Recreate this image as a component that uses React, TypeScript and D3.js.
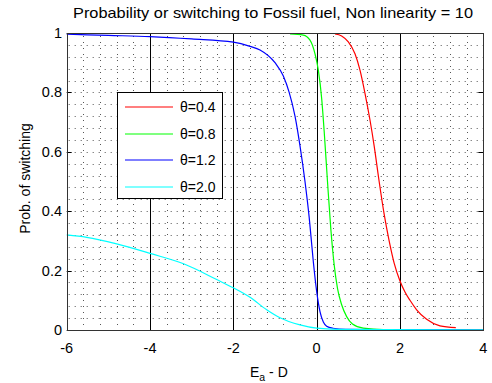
import React from "react";
import * as d3 from "d3";

const W = 492;
const H = 383;

const xTicks = [-6, -4, -2, 0, 2, 4];
const yTicks = [0, 0.2, 0.4, 0.6, 0.8, 1];
const xTickLabels = ["-6", "-4", "-2", "0", "2", "4"];
const yTickLabels = ["0", "0.2", "0.4", "0.6", "0.8", "1"];

const legendLabels = ["θ=0.4", "θ=0.8", "θ=1.2", "θ=2.0"];
const seriesColors = ["#ff0000", "#00ff00", "#0000ff", "#00ffff"];

const redX = [0.44, 0.6, 0.76, 0.92, 1.04, 1.16, 1.28, 1.38, 1.5, 1.62, 1.74, 1.86, 2.0, 2.12, 2.24, 2.4, 2.64, 2.96, 3.34];
const redY = [0.997, 0.99, 0.97, 0.93, 0.875, 0.797, 0.707, 0.62, 0.5, 0.39, 0.3, 0.225, 0.165, 0.128, 0.1, 0.068, 0.036, 0.014, 0.008];

const greenX = [-0.64, -0.32, -0.16, -0.04, 0.04, 0.12, 0.18, 0.26, 0.34, 0.42, 0.5, 0.6, 0.72, 0.86, 1.12, 1.6, 4];
const greenY = [0.997, 0.993, 0.976, 0.93, 0.875, 0.78, 0.67, 0.5, 0.34, 0.22, 0.14, 0.085, 0.045, 0.02, 0.006, 0.001, 0];

const blueX = [-6, -5, -4, -3, -2, -1.6, -1.36, -1.0, -0.8, -0.66, -0.52, -0.4, -0.28, -0.18, -0.08, 0.0, 0.08, 0.16, 0.24, 0.39, 0.7, 1.5, 4];
const blueY = [0.996, 0.992, 0.988, 0.98, 0.969, 0.955, 0.943, 0.9, 0.855, 0.8, 0.72, 0.62, 0.5, 0.38, 0.23, 0.13, 0.062, 0.027, 0.013, 0.006, 0.002, 0.001, 0];

const cyanX = [-6, -5.52, -4.8, -4.0, -3.18, -2.4, -2.0, -1.6, -1.2, -0.88, -0.4, 0, 0.5, 4];
const cyanY = [0.32, 0.312, 0.29, 0.258, 0.222, 0.17, 0.142, 0.11, 0.068, 0.041, 0.017, 0.006, 0.002, 0];

const seriesXs = [redX, greenX, blueX, cyanX];
const seriesYs = [redY, greenY, blueY, cyanY];

const FONT = "'Liberation Sans', Arial, Helvetica, sans-serif";

export default function App() {
  const left = 66.7, right = 483.3, top = 33, bottom = 330;
  const x = d3.scaleLinear().domain([-6, 4]).range([left, right]);
  const y = d3.scaleLinear().domain([0, 1]).range([bottom, top]);

  const line = d3
    .line<[number, number]>()
    .x((d) => x(d[0]))
    .y((d) => y(d[1]))
    .curve(d3.curveMonotoneX);

  const minorX = d3.range(-6, 4.0001, 0.4).filter((v) => Math.abs(v / 2 - Math.round(v / 2)) > 1e-6);
  const minorY = d3.range(0.04, 0.9999, 0.04);
  const majorInner = [-4, -2, 0, 2];

  const lg = { x: 117, y: 92, w: 105, h: 106 };
  const rowY = [107, 134, 160, 187];

  return (
    <svg width={W} height={H} style={{ position: "absolute", left: 0, top: 0, background: "#fff" }}>
      <rect x={0} y={0} width={W} height={H} fill="#fff" />
      <text x={273} y={18} textAnchor="middle" fontFamily={FONT} fontSize={15} textLength={400}
        lengthAdjust="spacingAndGlyphs" fill="#000">
        Probability or switching to Fossil fuel, Non linearity = 10
      </text>
      {/* minor dotted grid */}
      {minorY.map((v, i) => (
        <line key={"my" + i} x1={left + 2} x2={right} y1={Math.round(y(v)) + 0.5} y2={Math.round(y(v)) + 0.5}
          stroke="#555" strokeWidth={1} strokeDasharray="1 5" />
      ))}
      {minorX.map((v, i) => (
        <line key={"mx" + i} x1={Math.round(x(v)) + 0.5} x2={Math.round(x(v)) + 0.5} y1={top + 3} y2={bottom}
          stroke="#555" strokeWidth={1} strokeDasharray="1 5" />
      ))}
      {/* major vertical grid */}
      {majorInner.map((v) => (
        <line key={"MX" + v} x1={Math.round(x(v)) + 0.5} x2={Math.round(x(v)) + 0.5} y1={top} y2={bottom}
          stroke="#000" strokeWidth={1} />
      ))}
      {/* y ticks both sides */}
      {yTicks.map((v) => (
        <g key={"yt" + v}>
          <line x1={left} x2={left + 5} y1={Math.round(y(v)) + 0.5} y2={Math.round(y(v)) + 0.5} stroke="#000" />
          <line x1={right - 5} x2={right} y1={Math.round(y(v)) + 0.5} y2={Math.round(y(v)) + 0.5} stroke="#000" />
        </g>
      ))}
      {/* series */}
      {seriesXs.map((xs, i) => (
        <path key={"s" + i} d={line(xs.map((xv, j) => [xv, seriesYs[i][j]] as [number, number])) || ""}
          fill="none" stroke={seriesColors[i]} strokeWidth={1.2} />
      ))}
      {/* axes box */}
      <rect x={Math.round(left) + 0.5} y={top + 0.5} width={Math.round(right) - Math.round(left)} height={bottom - top}
        fill="none" stroke="#333" strokeWidth={1} />
      {/* tick labels */}
      {xTicks.map((v, i) => (
        <text key={"xl" + v} x={x(v)} y={353} textAnchor="middle" fontFamily={FONT} fontSize={14.5} fill="#000">
          {xTickLabels[i]}
        </text>
      ))}
      {yTicks.map((v, i) => (
        <text key={"yl" + v} x={62} y={y(v) + 5} textAnchor="end" fontFamily={FONT} fontSize={14.5} fill="#000">
          {yTickLabels[i]}
        </text>
      ))}
      {/* axis labels */}
      <text x={250} y={377} fontFamily={FONT} fontSize={14} fill="#000">
        E<tspan fontSize={10.5} dy={4}>a</tspan><tspan dy={-4}> - D</tspan>
      </text>
      <text transform={`translate(30,${(top + bottom) / 2 - 3}) rotate(-90)`} textAnchor="middle" fontFamily={FONT}
        fontSize={14} fill="#000">
        Prob. of switching
      </text>
      {/* legend */}
      <rect x={lg.x + 0.5} y={lg.y + 0.5} width={lg.w} height={lg.h} fill="#fff" stroke="#000" strokeWidth={1} />
      {legendLabels.map((lab, i) => (
        <g key={"lg" + i}>
          <line x1={125} x2={173} y1={rowY[i]} y2={rowY[i]} stroke={seriesColors[i]} strokeWidth={1.2} />
          <text x={180} y={rowY[i] + 5} fontFamily={FONT} fontSize={14} fill="#000">{lab}</text>
        </g>
      ))}
    </svg>
  );
}
